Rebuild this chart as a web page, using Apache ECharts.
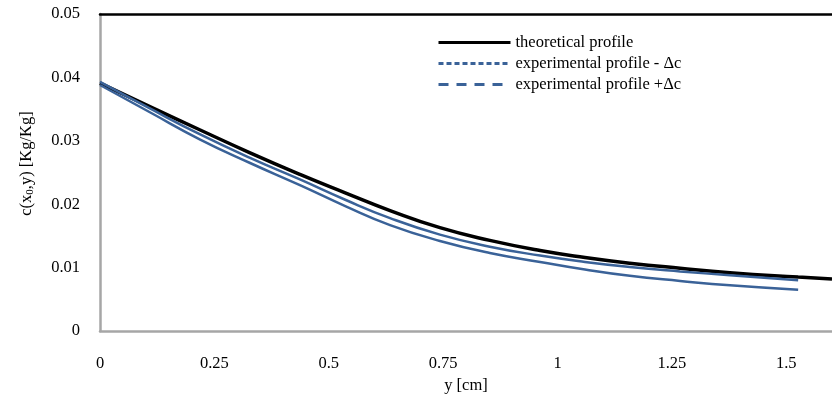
<!DOCTYPE html>
<html>
<head>
<meta charset="utf-8">
<style>
	html, body { margin: 0; padding: 0; background: #fff; }
	#chart { width: 832px; height: 400px; }
</style>
</head>
<body>
	<div id="chart"></div>
	<script src="https://cdn.jsdelivr.net/npm/echarts@6/dist/echarts.min.js"></script>
	<script>
		// values
		var theoX = [0, 0.109, 0.219, 0.328, 0.437, 0.536, 0.634, 0.743, 0.852, 0.962, 1.060, 1.158, 1.268, 1.377, 1.526, 1.6];
		var theoC = [0.0391, 0.0354, 0.0317, 0.0281, 0.0247, 0.0218, 0.0190, 0.0163, 0.0143, 0.0127, 0.0116, 0.0107, 0.0099, 0.0092, 0.0085, 0.0082];
		var expX = [0, 0.109, 0.219, 0.328, 0.437, 0.536, 0.634, 0.743, 0.852, 0.962, 1.060, 1.158, 1.268, 1.377, 1.526];
		var expPlus = [0.0393, 0.0351, 0.0310, 0.0273, 0.0239, 0.0207, 0.0178, 0.0152, 0.0133, 0.0119, 0.0109, 0.0101, 0.0094, 0.0088, 0.0080];
		var expMinus = [0.0388, 0.0345, 0.0302, 0.0265, 0.0230, 0.0197, 0.0167, 0.0142, 0.0123, 0.0109, 0.0097, 0.0087, 0.0079, 0.0072, 0.0065];
		var names = ['theoretical profile', 'experimental profile - \u0394c', 'experimental profile +\u0394c'];

		function pairs(xs, ys) {
			return xs.map(function (x, i) { return [x, ys[i]]; });
		}

		var font = 'Liberation Serif';
		var blue = '#3a6298';
		var myChart = echarts.init(document.getElementById('chart'));

		var option = {
			animation: false,
			textStyle: { fontFamily: font },
			grid: { left: 100, right: 0, top: 14, bottom: 69 },
			legend: {
				left: 432,
				top: 29,
				orient: 'vertical',
				itemWidth: 72,
				itemHeight: 10,
				itemGap: 4,
				itemStyle: { opacity: 0 },
				textStyle: { fontFamily: font, fontSize: 16.5, color: '#000' },
				data: [
					{ name: names[0], lineStyle: { color: '#000', width: 3 } },
					{ name: names[1], lineStyle: { type: [5, 3], width: 3 } },
					{ name: names[2], lineStyle: { type: [10, 8], width: 3 } }
				]
			},
			xAxis: [
				{
					type: 'value',
					min: 0, max: 1.6, interval: 0.25,
					name: 'y [cm]',
					nameLocation: 'middle',
					nameGap: 42,
					nameTextStyle: { fontFamily: font, fontSize: 16.5, color: '#000' },
					axisLine: { lineStyle: { color: '#a6a6a6', width: 2.5 } },
					axisTick: { show: false },
					splitLine: { show: false },
					axisLabel: {
						margin: 24, fontSize: 16.5, color: '#000', fontFamily: font,
						showMaxLabel: false,
						formatter: function (v) { return String(v); }
					}
				},
				{
					type: 'value',
					min: 0, max: 1.6,
					position: 'top',
					axisLine: { show: true, lineStyle: { color: '#000', width: 2.5 } },
					axisTick: { show: false },
					axisLabel: { show: false },
					splitLine: { show: false }
				}
			],
			yAxis: {
				type: 'value',
				min: 0, max: 0.05, interval: 0.01,
				name: 'c(x{sub|0},y) [Kg/Kg]',
				nameLocation: 'middle',
				nameGap: 64,
				nameTextStyle: {
					fontFamily: font, fontSize: 16.5, color: '#000',
					padding: [0, 0, 0, 18],
					rich: { sub: { fontFamily: font, fontSize: 11, color: '#000', verticalAlign: 'bottom', padding: [7, 0, 0, 0] } }
				},
				axisLine: { show: true, lineStyle: { color: '#a6a6a6', width: 2.5 } },
				axisTick: { show: false },
				splitLine: { show: false },
				axisLabel: {
					margin: 20, fontSize: 16.5, color: '#000', fontFamily: font,
					formatter: function (v) { return String(+v.toFixed(2)); }
				}
			},
			series: [
				{
					name: names[0],
					type: 'line',
					smooth: 0.5,
					symbol: 'none',
					z: 3,
					color: '#000',
					lineStyle: { color: '#000', width: 3.5 },
					data: pairs(theoX, theoC)
				},
				{
					name: names[1],
					type: 'line',
					smooth: 0.5,
					symbol: 'none',
					color: blue,
					lineStyle: { color: blue, width: 2.5 },
					data: pairs(expX, expMinus)
				},
				{
					name: names[2],
					type: 'line',
					smooth: 0.5,
					symbol: 'none',
					color: blue,
					lineStyle: { color: blue, width: 2.5 },
					data: pairs(expX, expPlus)
				}
			]
		};

		myChart.setOption(option);
	</script>
</body>
</html>
